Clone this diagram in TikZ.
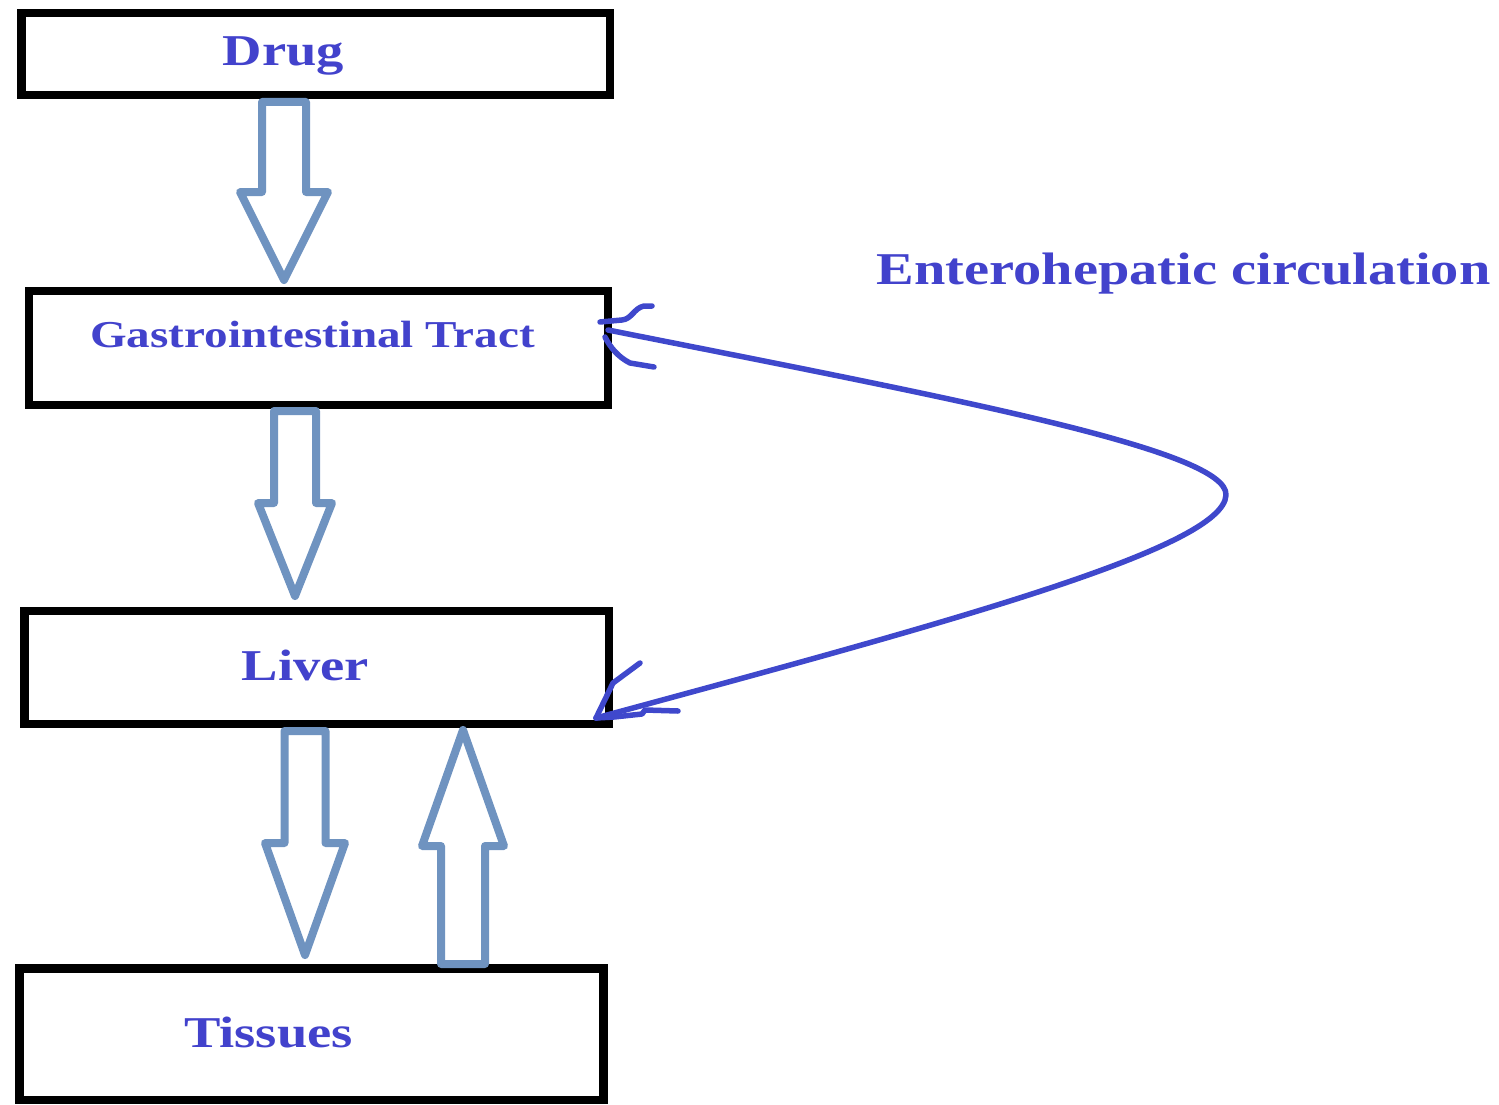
\documentclass[tikz,border=0pt]{standalone}
\usepackage{fontspec}
\newfontfamily\lblfont[FakeStretch=1.24]{Liberation Serif}
\usetikzlibrary{calc}
\definecolor{txtblue}{RGB}{66,66,204}
\definecolor{curveblue}{RGB}{63,72,204}
\definecolor{arrowblue}{RGB}{111,147,192}
\newcommand\blockarrow[5]{%
  \draw[barrow] let \p1=(#1), \p2=(#2) in
    (\x1-#4,\y1) -- (\x1-#4,\y2+#3) -- (\x1-#5,\y2+#3) -- (\x2,\y2)
    -- (\x1+#5,\y2+#3) -- (\x1+#4,\y2+#3) -- (\x1+#4,\y1) -- cycle;}
\begin{document}
\begin{tikzpicture}[x=1pt,y=-1pt,
  box/.style={draw=black,line width=8.5pt,fill=white,inner sep=0pt},
  lbl/.style={inner sep=0pt,anchor=base,text=txtblue,font=\lblfont\bfseries\fontsize{44}{48}\selectfont},
  barrow/.style={draw=arrowblue,line width=8pt,line join=round,fill=white},
  circ/.style={draw=curveblue,line width=5.5pt,line cap=round,line join=round}]
\useasboundingbox (0,0) rectangle (1499,1105);
% boxes
\node[box,minimum width=588.5pt,minimum height=82pt] (drug) at (315.75,54) {};
\node[box,minimum width=579pt,minimum height=114pt] (gi) at (318.5,348) {};
\node[box,minimum width=584.3pt,minimum height=113pt] (liver) at (316.85,667.5) {};
\node[box,minimum width=584pt,minimum height=131.5pt] (tissues) at (311.5,1034.25) {};
% labels
\node[lbl] (drugtxt) at (283.5,66) {Drug};
\node[lbl,font=\lblfont\bfseries\fontsize{38}{42}\selectfont] (gitxt) at (312.5,347) {Gastrointestinal Tract};
\node[lbl] (livertxt) at (305.5,680) {Liver};
\node[lbl] (tissuestxt) at (268.5,1047) {Tissues};
\node[lbl,font=\lblfont\bfseries\fontsize{45.5}{49}\selectfont] (ehctxt) at (1183.5,284) {Enterohepatic circulation};
% block arrows
\coordinate (a1s) at (284,102);  \coordinate (a1t) at (284,280);
\coordinate (a2s) at (295,411);  \coordinate (a2t) at (295,596);
\coordinate (a3s) at (305,731);  \coordinate (a3t) at (305,955);
\coordinate (a4s) at (463,964);  \coordinate (a4t) at (463,730);
\blockarrow{a1s}{a1t}{88pt}{22pt}{44pt}
\blockarrow{a2s}{a2t}{93pt}{21pt}{37pt}
\blockarrow{a3s}{a3t}{112pt}{20.5pt}{40pt}
\blockarrow{a4s}{a4t}{-116pt}{22pt}{41pt}
% enterohepatic curve
\coordinate (cstart) at (608,330);
\coordinate (cturn) at (1226,495);
\coordinate (cend) at (596,718);
\draw[circ] (cstart) .. controls (950,398) and (1228,450) .. (cturn)
  .. controls (1224,548) and (950,622) .. (cend);
% hand-drawn arrow tips
\draw[circ] (cstart) ++(-8,-8) -- ++(22,-2) .. controls ++(10,-1) and ++(-10,2) .. ++(22,-14) -- ++(8,0);
\draw[circ] (cstart) ++(-3,7) .. controls ++(5,10) and ++(-12,-6) .. ++(25,26) -- ++(24,4);
\draw[circ] (cend) -- ++(17,-35) -- ++(27,-20);
\draw[circ] (cend) -- ++(18,-1) -- ++(28,-3) -- ++(3,-4) -- ++(33,1);
\end{tikzpicture}
\end{document}
